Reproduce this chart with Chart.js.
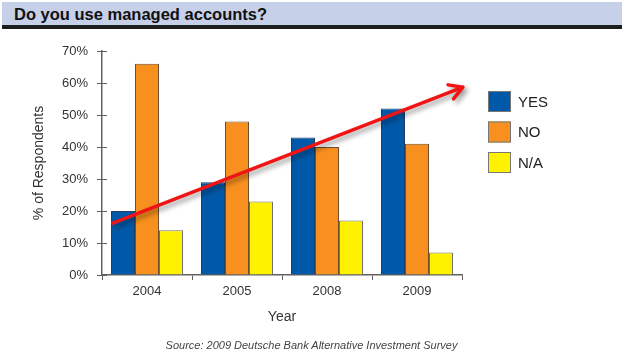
<!DOCTYPE html>
<html><head><meta charset="utf-8">
<script src="https://cdn.jsdelivr.net/npm/chart.js@4"></script>
<style>
html,body{margin:0;padding:0;background:#fff;}
#wrap{position:relative;width:626px;height:355px;overflow:hidden;}
#band{position:absolute;left:2px;top:2px;width:620px;height:23px;background:#c6d0e9;border-bottom:4px solid #1e1e1e;}
#band span{position:absolute;left:12px;top:1px;font:bold 16.5px 'Liberation Sans',Arial,sans-serif;color:#111;line-height:22px;white-space:nowrap;}
#src{position:absolute;left:0;width:623px;text-align:center;top:339px;font:italic 11px 'Liberation Sans',Arial,sans-serif;color:#444;}
canvas{position:absolute;left:0;top:0;}
</style></head><body>
<div id="wrap">
<canvas id="c" width="626" height="355"></canvas>
<div id="band"><span>Do you use managed accounts?</span></div>
<div id="src">Source: 2009 Deutsche Bank Alternative Investment Survey</div>
</div>
<script>
const categories = ['2004', '2005', '2008', '2009'];
const yesValues = [20, 29, 43, 52];
const noValues = [66, 48, 40, 41];
const naValues = [14, 23, 17, 7];
const seriesNames = ['YES', 'NO', 'N/A'];
// trend arrow endpoints in data units (category index, percent)
const trendX = [-0.38, 3.51];
const trendY = [16.2, 58.7];

const FONT = "'Liberation Sans', Arial, sans-serif";
const AXIS = '#606060';

const legendPlugin = {
  id: 'sideLegend',
  afterDraw(chart) {
    const ctx = chart.ctx;
    const x0 = 488, y0 = 91, w = 23, h = 21, gap = 30.5;
    ctx.save();
    chart.data.datasets.forEach((ds, i) => {
      const y = y0 + i * gap;
      ctx.fillStyle = ds.backgroundColor;
      ctx.fillRect(x0, y, w, h);
      ctx.strokeStyle = '#777';
      ctx.lineWidth = 1;
      ctx.strokeRect(x0 + 0.5, y + 0.5, w - 1, h - 1);
      ctx.fillStyle = '#222';
      ctx.font = "15px " + FONT;
      ctx.textBaseline = 'middle';
      ctx.textAlign = 'left';
      ctx.fillText(ds.label, x0 + w + 7, y + h / 2 + 1);
    });
    ctx.restore();
  }
};

const innerTicks = {
  id: 'innerTicks',
  afterDatasetsDraw(chart) {
    const ctx = chart.ctx, ys = chart.scales.y, left = chart.chartArea.left;
    ctx.save();
    ctx.strokeStyle = AXIS;
    ctx.lineWidth = 1;
    ys.ticks.forEach((t, i) => {
      const p = Math.round(ys.getPixelForTick(i)) + 0.5;
      ctx.beginPath();
      ctx.moveTo(left, p);
      ctx.lineTo(left + 5, p);
      ctx.stroke();
    });
    ctx.restore();
  }
};

const arrowPlugin = {
  id: 'trendArrow',
  afterDatasetsDraw(chart) {
    const ctx = chart.ctx, xs = chart.scales.x, ys = chart.scales.y;
    const x1 = xs.getPixelForValue(trendX[0]), y1 = ys.getPixelForValue(trendY[0]);
    const x2 = xs.getPixelForValue(trendX[1]), y2 = ys.getPixelForValue(trendY[1]);
    const ang = Math.atan2(y2 - y1, x2 - x1);
    const hl = 15, ha = Math.PI / 6;
    ctx.save();
    ctx.strokeStyle = '#f01414';
    ctx.lineWidth = 3.5;
    ctx.lineCap = 'round';
    ctx.lineJoin = 'round';
    ctx.shadowColor = 'rgba(0,0,0,0.4)';
    ctx.shadowBlur = 5;
    ctx.shadowOffsetX = 3;
    ctx.shadowOffsetY = 3;
    ctx.beginPath();
    ctx.moveTo(x1, y1);
    ctx.lineTo(x2, y2);
    ctx.moveTo(x2 - hl * Math.cos(ang - ha), y2 - hl * Math.sin(ang - ha));
    ctx.lineTo(x2, y2);
    ctx.lineTo(x2 - hl * Math.cos(ang + ha), y2 - hl * Math.sin(ang + ha));
    ctx.stroke();
    ctx.restore();
  }
};

new Chart(document.getElementById('c'), {
  type: 'bar',
  data: {
    labels: categories,
    datasets: [
      { label: seriesNames[0], data: yesValues, backgroundColor: '#0059a8', borderColor: '#1f3f6a', borderWidth: 1 },
      { label: seriesNames[1], data: noValues, backgroundColor: '#f7901e', borderColor: '#6e5030', borderWidth: 1 },
      { label: seriesNames[2], data: naValues, backgroundColor: '#fff200', borderColor: '#707070', borderWidth: 1 }
    ]
  },
  options: {
    responsive: false,
    animation: false,
    devicePixelRatio: 1,
    layout: { padding: { left: 0, top: 51, right: 164, bottom: 25 } },
    datasets: { bar: { categoryPercentage: 0.8, barPercentage: 1.0 } },
    plugins: { legend: { display: false }, tooltip: { enabled: false } },
    scales: {
      x: {
        afterFit(s) { s.height = 55; },
        grid: { display: true, drawOnChartArea: false, drawTicks: true, tickLength: 5, color: AXIS, lineWidth: 1 },
        border: { display: true, color: AXIS, width: 1.5 },
        ticks: { color: '#333', font: { family: FONT, size: 13 }, padding: 4 },
        title: { display: true, text: 'Year', color: '#333', font: { family: FONT, size: 14 }, padding: { top: 4, bottom: 4 } }
      },
      y: {
        min: 0, max: 70,
        afterFit(s) { s.width = 102; },
        grid: { display: true, drawOnChartArea: false, drawTicks: true, tickLength: 5, color: AXIS, lineWidth: 1 },
        border: { display: true, color: AXIS, width: 1.5 },
        ticks: { stepSize: 10, color: '#333', font: { family: FONT, size: 13 }, padding: 9, callback: v => v + '%' },
        title: { display: true, text: '% of Respondents', color: '#333', font: { family: FONT, size: 14 }, padding: { top: 31, bottom: 0 } }
      }
    }
  },
  plugins: [innerTicks, arrowPlugin, legendPlugin]
});
</script>
</body></html>
